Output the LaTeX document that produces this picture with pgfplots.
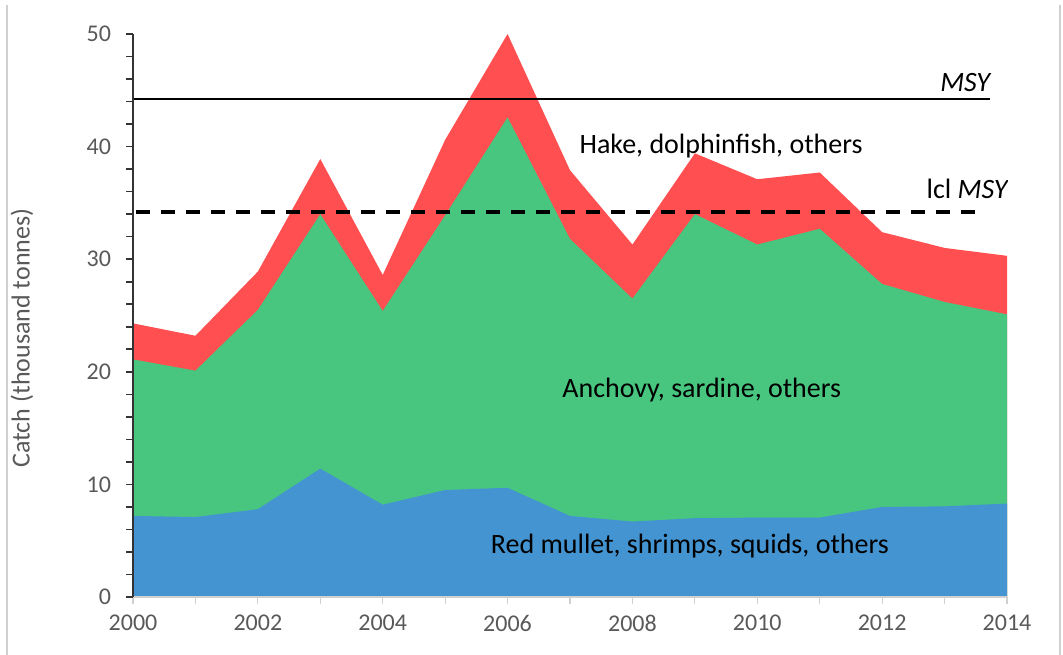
\documentclass[border=0pt]{standalone}
\usepackage{pgfplots}
\pgfplotsset{compat=1.18}
\usepackage{fontspec}
\setmainfont{Carlito}
\definecolor{cblue}{RGB}{67,148,208}
\definecolor{cgreen}{RGB}{72,198,128}
\definecolor{cred}{RGB}{255,79,80}
\definecolor{tgray}{RGB}{89,89,89}
\definecolor{bgray}{RGB}{208,208,208}
\begin{document}
\begin{tikzpicture}
\useasboundingbox (0,0) rectangle (531.5bp,327.5bp);
\draw[bgray, line width=0.6bp] (3.5bp,0) -- (3.5bp,325bp);
\draw[bgray, line width=0.6bp] (530bp,0) -- (530bp,325bp);
\begin{axis}[
  at={(66.5bp,29bp)}, anchor=south west,
  scale only axis, width=437bp, height=281.5bp,
  xmin=2000, xmax=2014, ymin=0, ymax=50,
  enlargelimits=false,
  axis x line*=bottom, axis y line*=left,
  axis on top=true,
  x axis line style={draw=bgray, line width=0.6bp, -},
  y axis line style={draw=black!80, line width=0.8bp, -},
  xtick={2000,2002,...,2014},
  minor xtick={2001,2003,...,2013},
  ytick={0,10,...,50},
  minor ytick={2,4,6,8,12,14,16,18,22,24,26,28,32,34,36,38,42,44,46,48},
  tick align=outside,
  major tick length=3.5bp, minor tick length=3.5bp,
  xtick style={draw=bgray, line width=0.6bp},
  ytick style={draw=black!80, line width=0.8bp},
  /pgf/number format/1000 sep={},
  /pgf/number format/assume math mode=true,
  tick label style={font=\fontsize{12bp}{14bp}\selectfont, text=tgray},
  xticklabel style={yshift=-2bp},
  yticklabel style={xshift=-4bp},
  ylabel={Catch (thousand tonnes)},
  every axis y label/.style={at={(axis description cs:-0.127,0.46)}, rotate=90, anchor=center, font=\fontsize{13bp}{15bp}\selectfont, text=tgray},
]
% total (red top)
\addplot[fill=cred, draw=none] coordinates {
(2000,24.3) (2001,23.2) (2002,28.9) (2003,38.9) (2004,28.6) (2005,40.6) (2006,50.0)
(2007,37.9) (2008,31.3) (2009,39.4) (2010,37.1) (2011,37.7) (2012,32.4) (2013,31.0) (2014,30.3)} \closedcycle;
% blue + green (green top)
\addplot[fill=cgreen, draw=none] coordinates {
(2000,21.1) (2001,20.1) (2002,25.5) (2003,34.0) (2004,25.4) (2005,33.9) (2006,42.6)
(2007,31.8) (2008,26.5) (2009,34.0) (2010,31.3) (2011,32.7) (2012,27.8) (2013,26.2) (2014,25.1)} \closedcycle;
% blue top
\addplot[fill=cblue, draw=none] coordinates {
(2000,7.2) (2001,7.1) (2002,7.8) (2003,11.4) (2004,8.2) (2005,9.5) (2006,9.7)
(2007,7.2) (2008,6.7) (2009,7.0) (2010,7.05) (2011,7.05) (2012,8.0) (2013,8.05) (2014,8.3)} \closedcycle;
% MSY
\addplot[black, line width=1.1bp] coordinates {(2000,44.2) (2013.73,44.2)};
% lcl MSY
\addplot[black, line width=1.8bp, dash pattern=on 7bp off 5.5bp] coordinates {(2000.05,34.2) (2013.57,34.2)};
\node[anchor=base, font=\fontsize{14bp}{16bp}\selectfont] at (axis cs:2009.42,39.4) {Hake, dolphinfish, others};
\node[anchor=base, font=\fontsize{14bp}{16bp}\selectfont] at (axis cs:2009.11,17.76) {Anchovy, sardine, others};
\node[anchor=base, font=\fontsize{14bp}{16bp}\selectfont] at (axis cs:2008.92,3.82) {Red mullet, shrimps, squids, others};
\node[anchor=base east, font=\fontsize{14bp}{16bp}\selectfont, inner sep=0pt] at (axis cs:2013.76,44.85) {\textit{MSY}};
\node[anchor=base east, font=\fontsize{14bp}{16bp}\selectfont, inner sep=0pt] at (axis cs:2014.04,35.43) {lcl \textit{MSY}};
\end{axis}
\end{tikzpicture}
\end{document}
